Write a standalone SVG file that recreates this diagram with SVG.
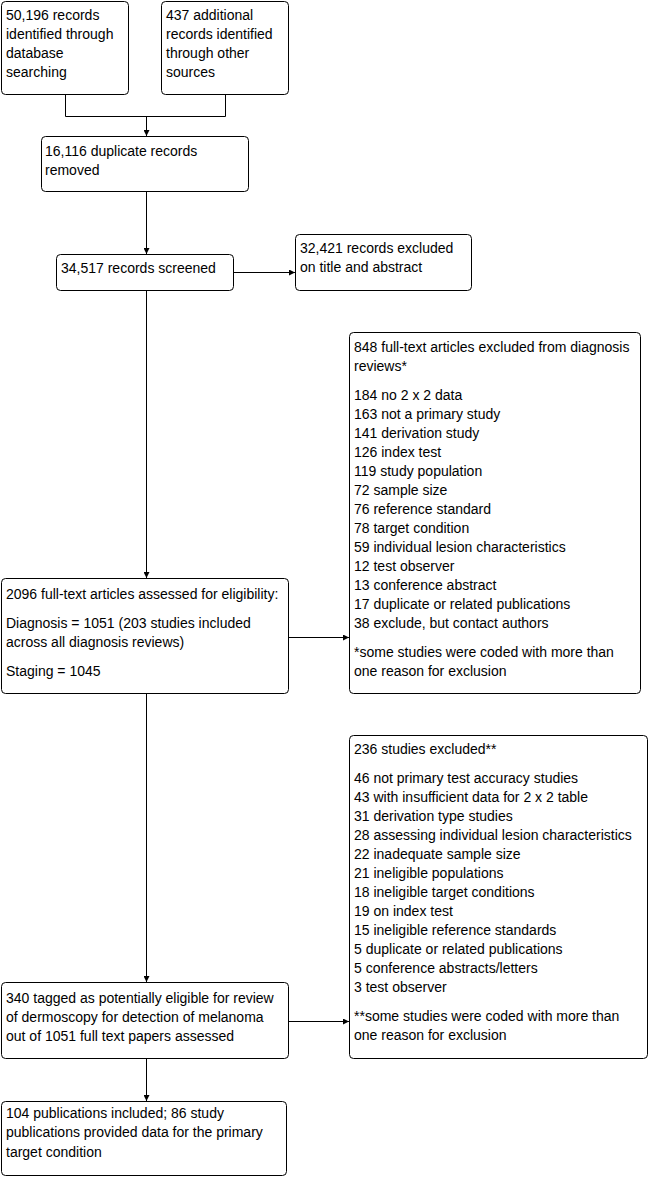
<svg xmlns="http://www.w3.org/2000/svg" width="650" height="1177" viewBox="0 0 650 1177">
<defs>
<marker id="arr" viewBox="0 0 6 6" refX="6" refY="3" markerWidth="6" markerHeight="6" orient="auto" markerUnits="userSpaceOnUse">
<path d="M0,0 L6,3 L0,6 Z" fill="#000"/>
</marker>
<style>
.box{fill:#fff;stroke:#000;stroke-width:1}
text{font-family:"Liberation Sans",Arial,sans-serif;font-size:14px;fill:#000}
.c{fill:none;stroke:#000;stroke-width:1}
</style>
</defs>
<rect width="650" height="1177" fill="#fff"/>
<g id="connectors">
<path class="c" d="M65.5,95 V116.5 H225.5 V95"/>
<path class="c" d="M146.5,116.5 V136" marker-end="url(#arr)"/>
<path class="c" d="M146.5,192 V254" marker-end="url(#arr)"/>
<path class="c" d="M234,272.5 H295" marker-end="url(#arr)"/>
<path class="c" d="M146.5,291 V578" marker-end="url(#arr)"/>
<path class="c" d="M289,637.5 H349" marker-end="url(#arr)"/>
<path class="c" d="M146.5,694 V982" marker-end="url(#arr)"/>
<path class="c" d="M289,1021.5 H349" marker-end="url(#arr)"/>
<path class="c" d="M146.5,1059 V1101" marker-end="url(#arr)"/>
</g>
<g id="n1">
<rect class="box" x="1.5" y="1.5" width="127" height="93" rx="4"/>
<text x="6" y="20">50,196 records</text>
<text x="6" y="39">identified through</text>
<text x="6" y="58">database</text>
<text x="6" y="77">searching</text>
</g>
<g id="n2">
<rect class="box" x="161.5" y="1.5" width="127" height="93" rx="4"/>
<text x="166" y="20">437 additional</text>
<text x="166" y="39">records identified</text>
<text x="166" y="58">through other</text>
<text x="166" y="77">sources</text>
</g>
<g id="n3">
<rect class="box" x="41.5" y="136.5" width="207" height="55" rx="4"/>
<text x="45" y="156">16,116 duplicate records</text>
<text x="45" y="175">removed</text>
</g>
<g id="n4">
<rect class="box" x="56.5" y="254.5" width="177" height="36" rx="4"/>
<text x="61" y="273">34,517 records screened</text>
</g>
<g id="n5">
<rect class="box" x="295.5" y="234.5" width="176" height="56" rx="4"/>
<text x="300" y="253">32,421 records excluded</text>
<text x="300" y="272">on title and abstract</text>
</g>
<g id="n6">
<rect class="box" x="349.5" y="332.5" width="291" height="361" rx="4"/>
<text x="354" y="352">848 full-text articles excluded from diagnosis</text>
<text x="354" y="371">reviews*</text>
<text x="354" y="400">184 no 2 x 2 data</text>
<text x="354" y="419">163 not a primary study</text>
<text x="354" y="438">141 derivation study</text>
<text x="354" y="457">126 index test</text>
<text x="354" y="476">119 study population</text>
<text x="354" y="495">72 sample size</text>
<text x="354" y="514">76 reference standard</text>
<text x="354" y="533">78 target condition</text>
<text x="354" y="552">59 individual lesion characteristics</text>
<text x="354" y="571">12 test observer</text>
<text x="354" y="590">13 conference abstract</text>
<text x="354" y="609">17 duplicate or related publications</text>
<text x="354" y="628">38 exclude, but contact authors</text>
<text x="354" y="657">*some studies were coded with more than</text>
<text x="354" y="676">one reason for exclusion</text>
</g>
<g id="n7">
<rect class="box" x="1.5" y="578.5" width="287" height="115" rx="4"/>
<text x="6" y="599">2096 full-text articles assessed for eligibility:</text>
<text x="6" y="628">Diagnosis = 1051 (203 studies included</text>
<text x="6" y="647">across all diagnosis reviews)</text>
<text x="6" y="676">Staging = 1045</text>
</g>
<g id="n8">
<rect class="box" x="349.5" y="735.5" width="298" height="323" rx="4"/>
<text x="354" y="754">236 studies excluded**</text>
<text x="354" y="783">46 not primary test accuracy studies</text>
<text x="354" y="802">43 with insufficient data for 2 x 2 table</text>
<text x="354" y="821">31 derivation type studies</text>
<text x="354" y="840">28 assessing individual lesion characteristics</text>
<text x="354" y="859">22 inadequate sample size</text>
<text x="354" y="878">21 ineligible populations</text>
<text x="354" y="897">18 ineligible target conditions</text>
<text x="354" y="916">19 on index test</text>
<text x="354" y="935">15 ineligible reference standards</text>
<text x="354" y="954">5 duplicate or related publications</text>
<text x="354" y="973">5 conference abstracts/letters</text>
<text x="354" y="992">3 test observer</text>
<text x="354" y="1021">**some studies were coded with more than</text>
<text x="354" y="1040">one reason for exclusion</text>
</g>
<g id="n9">
<rect class="box" x="1.5" y="982.5" width="287" height="76" rx="4"/>
<text x="6" y="1003">340 tagged as potentially eligible for review</text>
<text x="6" y="1022">of dermoscopy for detection of melanoma</text>
<text x="6" y="1041">out of 1051 full text papers assessed</text>
</g>
<g id="n10">
<rect class="box" x="1.5" y="1101.5" width="285" height="74" rx="4"/>
<text x="6" y="1118">104 publications included; 86 study</text>
<text x="6" y="1137">publications provided data for the primary</text>
<text x="6" y="1157">target condition</text>
</g>
</svg>
